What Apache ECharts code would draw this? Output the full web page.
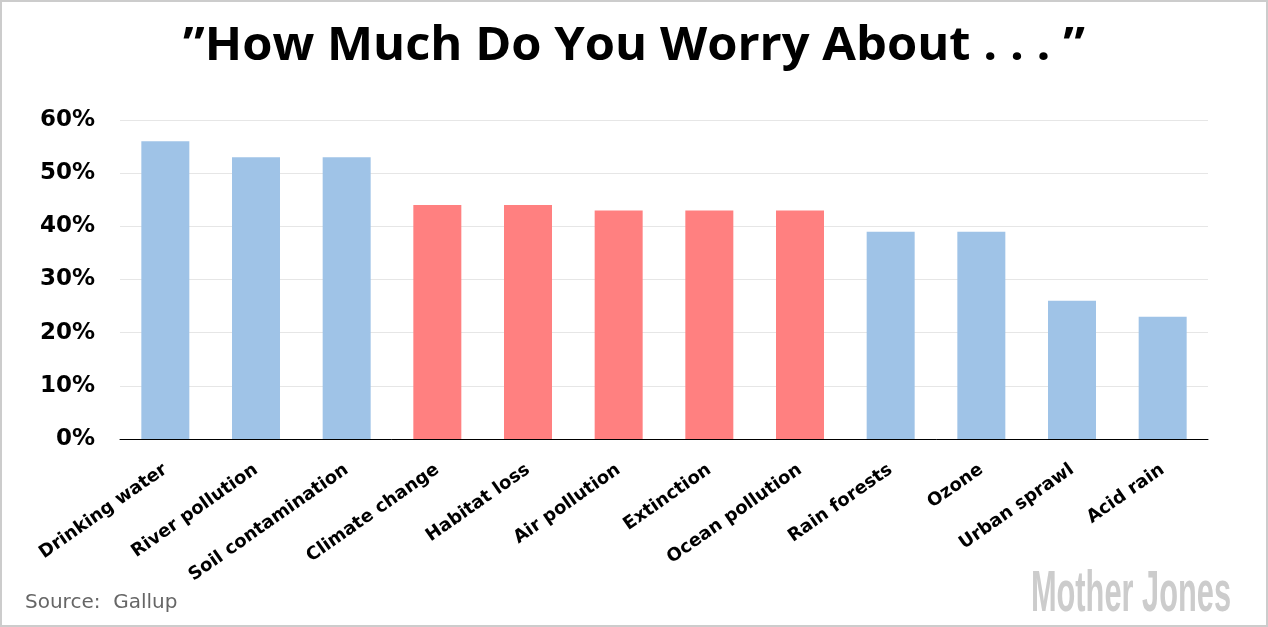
<!DOCTYPE html>
<html><head><meta charset="utf-8">
<script src="https://cdn.jsdelivr.net/npm/echarts@6/dist/echarts.min.js"></script>
<style>html,body{margin:0;padding:0;background:#fff}#c{width:1268px;height:627px}</style>
</head><body><div id="c"></div>
<script>
const categories = ["Drinking water","River pollution","Soil contamination","Climate change","Habitat loss","Air pollution","Extinction","Ocean pollution","Rain forests","Ozone","Urban sprawl","Acid rain"];
const values = [56,53,53,44,44,43,43,43,39,39,26,23];
const highlighted = [false,false,false,true,true,true,true,true,false,false,false,false];
const yTicks = {min:0,max:60,interval:10};
const BLUE = '#9fc3e7', RED = '#ff8080';

const chart = echarts.init(document.getElementById('c'));
chart.setOption({
  animation:false,
  backgroundColor:'#fff',
  grid:{left:120,right:60,top:120,bottom:188},
  xAxis:{type:'category',data:categories,
    axisLine:{lineStyle:{color:'#000',width:1}},
    axisTick:{inside:true,length:5,lineStyle:{color:'#000'}},
    axisLabel:{rotate:35,margin:29,fontFamily:'DejaVu Sans',fontWeight:'bold',fontSize:18,color:'#000',interval:0}},
  yAxis:{type:'value',min:yTicks.min,max:yTicks.max,interval:yTicks.interval,
    axisLine:{show:false},axisTick:{show:false},
    splitLine:{lineStyle:{color:'#e6e6e6',width:1}},
    axisLabel:{formatter:'{value}%',margin:25,fontFamily:'DejaVu Sans',fontWeight:'bold',fontSize:23,color:'#000'}},
  series:[{type:'bar',barWidth:48,
    data:values.map((v,i)=>({value:v,itemStyle:{color:highlighted[i]?RED:BLUE}}))}],
  graphic:[
    {type:'rect',shape:{x:1,y:1,width:1266,height:625},style:{fill:null,stroke:'#cccccc',lineWidth:2},silent:true},
    {type:'text',x:634,y:47,scaleX:1.04,style:{text:'\u201DHow Much Do You Worry About . . . \u201D',font:'bold 47px "Open Sans"',fill:'#000',textAlign:'center',textVerticalAlign:'middle'}},
    {type:'text',x:25,y:603,style:{text:'Source:  Gallup',font:'20px "DejaVu Sans"',fill:'#666',textVerticalAlign:'middle'}},
    {type:'text',x:1231,y:595,scaleX:0.54,style:{text:'Mother Jones',font:'bold 57px "Liberation Sans"',fill:'#cccccc',textAlign:'right',textVerticalAlign:'middle'}}
  ]
});
</script></body></html>
